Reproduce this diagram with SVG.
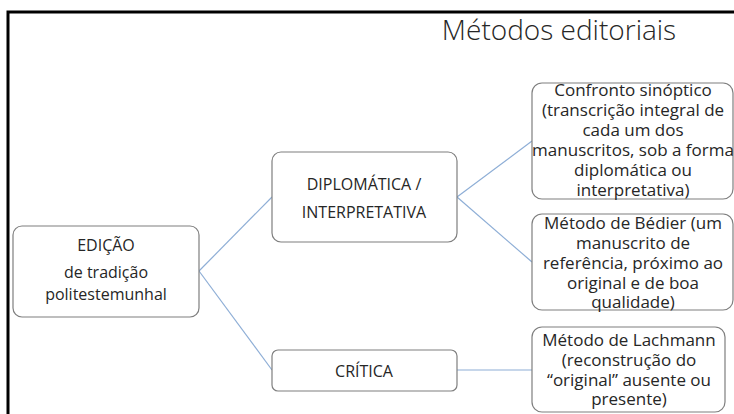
<svg xmlns="http://www.w3.org/2000/svg" width="734" height="414" viewBox="0 0 734 414">
<style>
.box{fill:#ffffff;stroke:#7f7f7f;stroke-width:1.2}
.t{font-family:"Open Sans","Liberation Sans",sans-serif;fill:#262626;text-anchor:middle}
.n{font-size:16px}
.r{font-size:17px}
.conn line{stroke:#8eaed6;stroke-width:1.2}
</style>
<rect x="0" y="0" width="734" height="414" fill="#ffffff"/>
<rect x="8" y="12" width="740" height="420" fill="none" stroke="#000000" stroke-width="3"/>
<text class="t" x="559" y="40" font-size="28" style="font-weight:300">Métodos editoriais</text>
<g id="connectors" class="conn">
<line x1="199" y1="271" x2="272" y2="197"/>
<line x1="199" y1="271" x2="272" y2="370"/>
<line x1="457" y1="197" x2="532" y2="141"/>
<line x1="457" y1="197" x2="532" y2="262"/>
<line x1="457" y1="370" x2="532" y2="370"/>
</g>
<g id="edicao">
<rect class="box" x="13" y="226" width="186" height="91" rx="9"/>
<text class="t n" x="106" y="251">EDIÇÃO</text>
<text class="t n" x="106" y="278">de tradição</text>
<text class="t n" x="106" y="300">politestemunhal</text>
</g>
<g id="diplomatica">
<rect class="box" x="272" y="152" width="185" height="90" rx="9"/>
<text class="t n" x="364" y="190">DIPLOMÁTICA /</text>
<text class="t n" x="364" y="218">INTERPRETATIVA</text>
</g>
<g id="critica">
<rect class="box" x="272" y="350" width="185" height="41" rx="6"/>
<text class="t n" x="364" y="377">CRÍTICA</text>
</g>
<g id="confronto">
<rect class="box" x="532" y="83" width="201" height="116" rx="10"/>
<text class="t r" x="633" y="96">Confronto sinóptico</text>
<text class="t r" x="633" y="116">(transcrição integral de</text>
<text class="t r" x="633" y="136">cada um dos</text>
<text class="t r" x="633" y="156">manuscritos, sob a forma</text>
<text class="t r" x="633" y="176">diplomática ou</text>
<text class="t r" x="633" y="196">interpretativa)</text>
</g>
<g id="bedier">
<rect class="box" x="532" y="214" width="201" height="96" rx="10"/>
<text class="t r" x="633" y="229">Método de Bédier (um</text>
<text class="t r" x="633" y="249">manuscrito de</text>
<text class="t r" x="633" y="269">referência, próximo ao</text>
<text class="t r" x="633" y="289">original e de boa</text>
<text class="t r" x="633" y="308">qualidade)</text>
</g>
<g id="lachmann">
<rect class="box" x="532" y="327" width="193" height="85" rx="10"/>
<text class="t r" x="629" y="346">Método de Lachmann</text>
<text class="t r" x="629" y="366">(reconstrução do</text>
<text class="t r" x="629" y="386">“original” ausente ou</text>
<text class="t r" x="629" y="405">presente)</text>
</g>
</svg>
